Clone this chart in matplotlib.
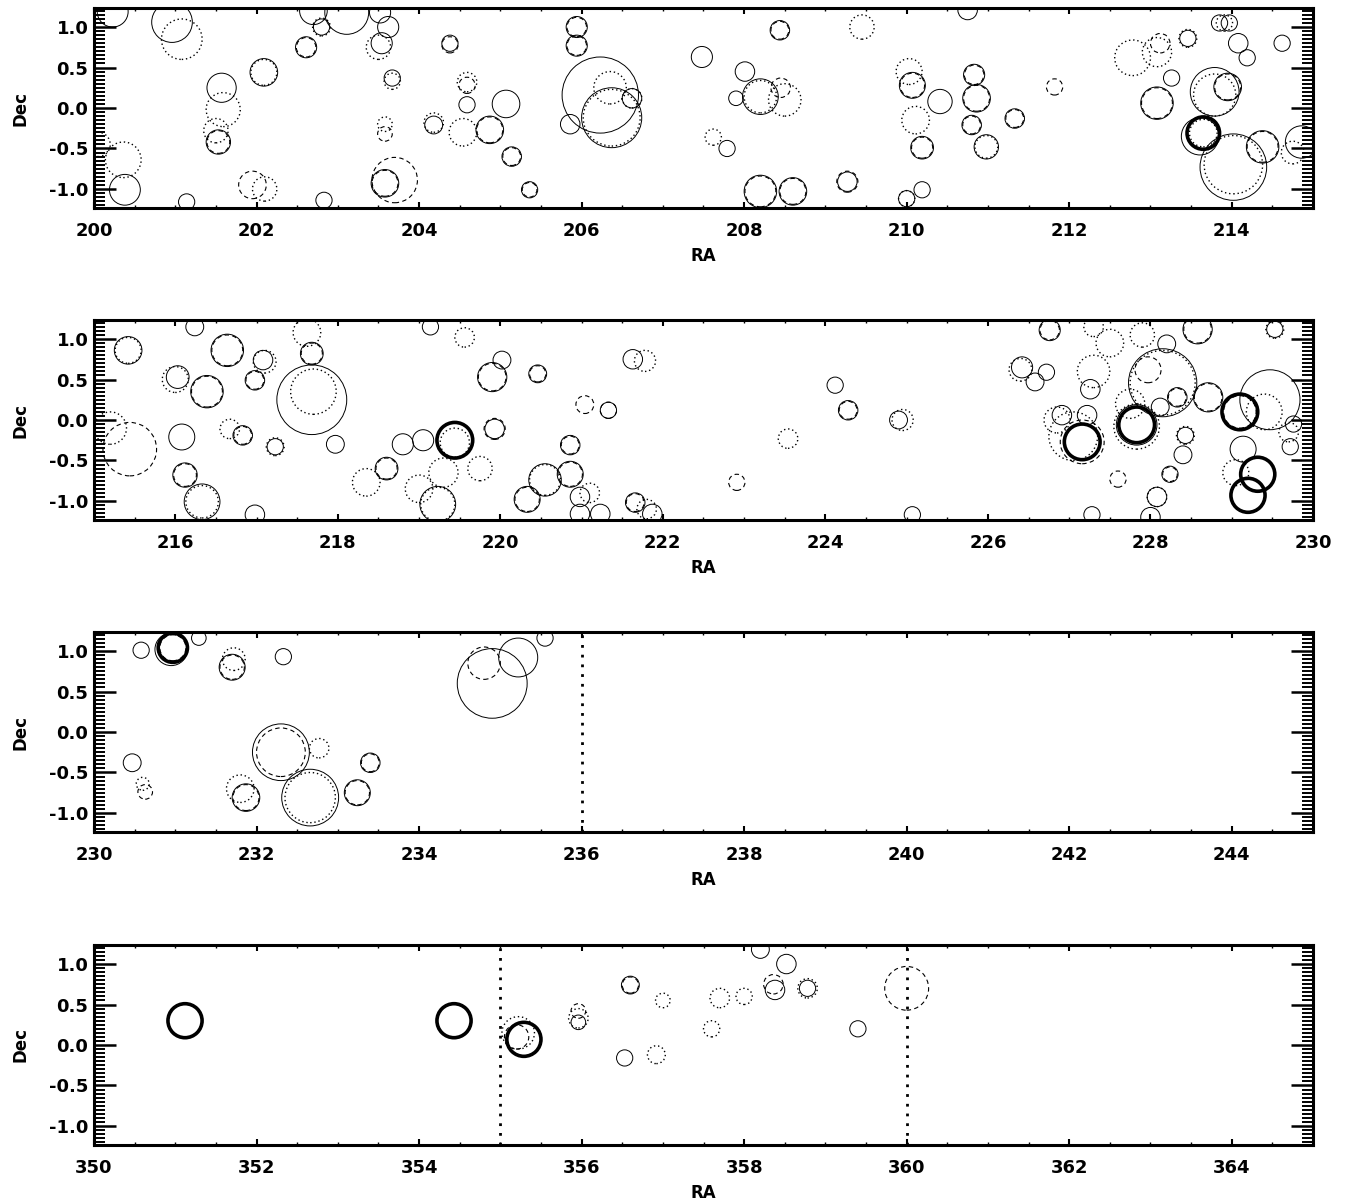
import numpy as np
import matplotlib
matplotlib.use('Agg')
import matplotlib.pyplot as plt
from matplotlib.patches import Circle
from matplotlib.ticker import MultipleLocator, FormatStrFormatter

# circle lists per strip: (RA, Dec, radius, kind)
# kind: s = thin solid, d = dashed, o = dotted, b = thick solid
strip1 = [
    (200.23, 1.19, 0.19, 's'), (200.96, 1.06, 0.25, 's'), (201.08, 0.85, 0.25, 'o'),
    (200.36, -0.64, 0.22, 'o'), (200.05, -0.45, 0.15, 'o'), (200.38, -1.01, 0.19, 's'),
    (201.57, 0.25, 0.18, 's'), (201.59, -0.02, 0.21, 'o'), (201.53, -0.42, 0.15, 's'),
    (201.53, -0.42, 0.14, 'd'), (201.50, -0.28, 0.15, 'o'), (202.09, 0.44, 0.17, 's'),
    (202.09, 0.44, 0.16, 'o'), (201.95, -0.95, 0.17, 'd'), (202.10, -1.00, 0.15, 'o'),
    (201.14, -1.16, 0.10, 's'), (202.83, -1.14, 0.10, 's'), (202.61, 0.75, 0.13, 's'),
    (202.61, 0.75, 0.12, 'd'), (203.11, 1.18, 0.27, 's'), (202.70, 1.20, 0.17, 's'),
    (202.80, 1.00, 0.10, 's'), (202.80, 1.00, 0.11, 'o'), (203.52, 1.18, 0.13, 's'),
    (203.62, 1.00, 0.13, 's'), (203.54, 0.80, 0.13, 's'), (203.50, 0.75, 0.15, 'o'),
    (203.67, 0.37, 0.10, 's'), (203.67, 0.33, 0.10, 'o'), (203.58, -0.20, 0.09, 'o'),
    (203.58, -0.32, 0.09, 'd'), (203.58, -0.93, 0.17, 's'), (203.58, -0.93, 0.16, 'd'),
    (203.70, -0.89, 0.28, 'd'), (204.38, 0.80, 0.10, 's'), (204.38, 0.78, 0.10, 'd'),
    (204.59, 0.28, 0.10, 'd'), (204.59, 0.32, 0.12, 'o'), (204.59, 0.04, 0.10, 's'),
    (204.18, -0.21, 0.11, 's'), (204.18, -0.18, 0.12, 'o'), (204.54, -0.30, 0.17, 'o'),
    (204.87, -0.27, 0.17, 's'), (204.87, -0.27, 0.16, 'd'), (205.07, 0.05, 0.17, 's'),
    (205.14, -0.60, 0.12, 's'), (205.14, -0.60, 0.11, 'd'), (205.36, -1.01, 0.10, 's'),
    (205.36, -1.01, 0.09, 'd'), (205.94, 1.00, 0.13, 's'), (205.94, 1.00, 0.12, 'd'),
    (205.94, 0.77, 0.13, 's'), (205.94, 0.77, 0.12, 'd'), (206.23, 0.16, 0.47, 's'),
    (206.37, -0.12, 0.37, 's'), (206.37, -0.12, 0.35, 'o'), (206.35, 0.25, 0.20, 'o'),
    (205.86, -0.20, 0.12, 's'), (206.62, 0.12, 0.12, 's'), (206.62, 0.12, 0.12, 'o'),
    (207.48, 0.63, 0.13, 's'), (208.01, 0.45, 0.12, 's'), (208.20, 0.14, 0.22, 's'),
    (208.20, 0.14, 0.20, 'o'), (207.90, 0.12, 0.09, 's'), (208.50, 0.10, 0.20, 'o'),
    (208.45, 0.25, 0.12, 'd'), (208.44, 0.96, 0.12, 's'), (208.44, 0.96, 0.11, 'd'),
    (207.79, -0.50, 0.10, 's'), (207.62, -0.36, 0.10, 'o'), (208.20, -1.03, 0.20, 's'),
    (208.20, -1.03, 0.19, 'd'), (208.60, -1.03, 0.17, 's'), (208.60, -1.03, 0.16, 'd'),
    (209.27, -0.91, 0.12, 's'), (209.27, -0.91, 0.13, 'd'), (209.45, 1.00, 0.15, 'o'),
    (210.00, -1.12, 0.10, 's'), (210.00, -1.12, 0.10, 'o'), (210.19, -1.01, 0.10, 's'),
    (210.07, 0.28, 0.16, 's'), (210.07, 0.28, 0.15, 'd'), (210.03, 0.45, 0.16, 'o'),
    (210.41, 0.08, 0.15, 's'), (210.11, -0.15, 0.17, 'o'), (210.19, -0.49, 0.14, 's'),
    (210.19, -0.49, 0.13, 'd'), (210.83, 0.41, 0.13, 's'), (210.83, 0.41, 0.12, 'd'),
    (210.86, 0.12, 0.17, 's'), (210.86, 0.12, 0.16, 'd'), (210.80, -0.21, 0.12, 's'),
    (210.80, -0.21, 0.11, 'd'), (210.98, -0.48, 0.15, 's'), (210.98, -0.48, 0.14, 'o'),
    (211.33, -0.13, 0.12, 's'), (211.33, -0.13, 0.11, 'd'), (210.75, 1.21, 0.12, 's'),
    (211.82, 0.26, 0.10, 'd'), (212.78, 0.62, 0.22, 'o'), (213.08, 0.69, 0.18, 'o'),
    (213.12, 0.80, 0.12, 'd'), (213.46, 0.86, 0.10, 's'), (213.46, 0.86, 0.11, 'o'),
    (213.26, 0.37, 0.10, 's'), (213.08, 0.06, 0.20, 's'), (213.08, 0.06, 0.19, 'd'),
    (213.79, 0.20, 0.30, 's'), (213.79, 0.16, 0.26, 'o'), (213.95, 0.26, 0.17, 's'),
    (213.95, 0.26, 0.16, 'd'), (213.85, 1.05, 0.10, 's'), (213.97, 1.05, 0.10, 's'),
    (213.91, 1.05, 0.10, 'o'), (214.08, 0.80, 0.12, 's'), (214.19, 0.62, 0.10, 's'),
    (214.62, 0.80, 0.10, 's'), (213.65, -0.31, 0.20, 'b'), (213.61, -0.35, 0.23, 's'),
    (213.65, -0.31, 0.17, 'o'), (214.02, -0.73, 0.41, 's'), (214.02, -0.70, 0.36, 'o'),
    (214.38, -0.48, 0.20, 's'), (214.38, -0.48, 0.19, 'd'), (214.86, -0.42, 0.20, 's'),
    (214.75, -0.55, 0.14, 'o'),
]

strip2 = [
    (215.42, 0.86, 0.17, 's'), (215.42, 0.86, 0.16, 'o'), (216.24, 1.15, 0.11, 's'),
    (216.64, 0.86, 0.20, 's'), (216.64, 0.86, 0.19, 'd'), (216.03, 0.53, 0.14, 's'),
    (216.00, 0.50, 0.16, 'o'), (216.39, 0.35, 0.20, 's'), (216.39, 0.35, 0.19, 'd'),
    (217.08, 0.74, 0.12, 's'), (217.10, 0.72, 0.14, 'o'), (216.98, 0.49, 0.12, 's'),
    (216.98, 0.49, 0.11, 'd'), (217.68, 0.82, 0.14, 's'), (217.68, 0.82, 0.13, 'd'),
    (217.68, 0.25, 0.43, 's'), (217.70, 0.35, 0.28, 'o'), (217.62, 1.08, 0.17, 'o'),
    (215.44, -0.36, 0.33, 'd'), (215.20, -0.10, 0.20, 'o'), (216.08, -0.21, 0.16, 's'),
    (216.83, -0.19, 0.12, 's'), (216.83, -0.19, 0.11, 'd'), (216.67, -0.11, 0.12, 'o'),
    (217.23, -0.33, 0.10, 's'), (217.23, -0.33, 0.11, 'o'), (217.97, -0.30, 0.11, 's'),
    (216.12, -0.68, 0.15, 's'), (216.12, -0.68, 0.14, 'd'), (216.33, -1.01, 0.22, 's'),
    (216.33, -1.01, 0.20, 'o'), (216.98, -1.17, 0.12, 's'), (218.60, -0.60, 0.14, 's'),
    (218.60, -0.60, 0.13, 'd'), (218.35, -0.77, 0.17, 'o'), (218.80, -0.30, 0.13, 's'),
    (219.05, -0.25, 0.13, 's'), (219.44, -0.25, 0.22, 'b'), (219.44, -0.28, 0.18, 'o'),
    (219.23, -1.04, 0.22, 's'), (219.23, -1.04, 0.21, 'o'), (219.14, 1.15, 0.10, 's'),
    (219.56, 1.02, 0.12, 'o'), (219.90, 0.53, 0.18, 's'), (219.90, 0.53, 0.17, 'd'),
    (220.02, 0.74, 0.11, 's'), (219.93, -0.11, 0.12, 's'), (219.93, -0.11, 0.13, 'd'),
    (219.30, -0.65, 0.18, 'o'), (219.75, -0.60, 0.15, 'o'), (219.00, -0.85, 0.17, 'o'),
    (220.46, 0.57, 0.11, 's'), (220.46, 0.57, 0.10, 'd'), (221.63, 0.75, 0.12, 's'),
    (221.78, 0.73, 0.13, 'o'), (221.04, 0.19, 0.11, 'd'), (221.33, 0.12, 0.10, 's'),
    (221.33, 0.12, 0.10, 'd'), (220.86, -0.31, 0.12, 's'), (220.86, -0.31, 0.11, 'd'),
    (220.55, -0.74, 0.20, 's'), (220.55, -0.74, 0.19, 'o'), (220.86, -0.67, 0.16, 's'),
    (220.86, -0.67, 0.15, 'd'), (220.33, -0.98, 0.16, 's'), (220.33, -0.98, 0.15, 'd'),
    (220.98, -0.95, 0.12, 's'), (221.10, -0.90, 0.12, 'o'), (221.23, -1.16, 0.12, 's'),
    (220.98, -1.16, 0.12, 's'), (221.66, -1.02, 0.12, 's'), (221.66, -1.02, 0.11, 'd'),
    (221.87, -1.16, 0.12, 's'), (221.80, -1.10, 0.12, 'o'), (222.91, -0.77, 0.10, 'd'),
    (223.54, -0.23, 0.12, 'o'), (224.12, 0.43, 0.10, 's'), (224.28, 0.12, 0.12, 's'),
    (224.28, 0.12, 0.11, 'd'), (224.90, 0.00, 0.11, 's'), (224.95, 0.00, 0.13, 'o'),
    (225.07, -1.17, 0.10, 's'), (226.76, 1.11, 0.13, 's'), (226.76, 1.11, 0.12, 'd'),
    (226.42, 0.65, 0.13, 's'), (226.40, 0.62, 0.14, 'o'), (226.72, 0.59, 0.10, 's'),
    (226.58, 0.47, 0.11, 's'), (227.26, 0.38, 0.12, 's'), (226.91, 0.06, 0.12, 's'),
    (226.85, 0.00, 0.16, 'o'), (227.22, 0.06, 0.12, 's'), (227.16, -0.27, 0.22, 'b'),
    (227.16, -0.27, 0.27, 'd'), (227.05, -0.20, 0.30, 'o'), (227.83, -0.06, 0.22, 'b'),
    (227.83, -0.06, 0.25, 's'), (227.83, -0.08, 0.28, 'o'), (228.15, 0.46, 0.42, 's'),
    (228.15, 0.46, 0.40, 'o'), (227.97, 0.62, 0.16, 'd'), (228.20, 0.94, 0.11, 's'),
    (228.58, 1.12, 0.18, 's'), (228.58, 1.12, 0.17, 'd'), (229.53, 1.12, 0.10, 's'),
    (229.53, 1.12, 0.11, 'o'), (228.71, 0.28, 0.18, 's'), (228.71, 0.28, 0.17, 'd'),
    (228.33, 0.28, 0.12, 's'), (228.33, 0.28, 0.11, 'd'), (228.12, 0.16, 0.11, 's'),
    (229.10, 0.10, 0.22, 'b'), (229.10, 0.10, 0.20, 'd'), (229.47, 0.25, 0.37, 's'),
    (229.40, 0.10, 0.22, 'o'), (228.43, -0.19, 0.10, 's'), (228.43, -0.19, 0.11, 'o'),
    (228.40, -0.43, 0.11, 's'), (228.24, -0.67, 0.10, 's'), (228.24, -0.67, 0.09, 'd'),
    (228.08, -0.95, 0.12, 's'), (228.08, -0.95, 0.12, 'o'), (227.60, -0.73, 0.10, 'd'),
    (229.14, -0.36, 0.16, 's'), (229.32, -0.67, 0.21, 'b'), (229.20, -0.93, 0.21, 'b'),
    (229.05, -0.65, 0.16, 'o'), (229.72, -0.33, 0.10, 's'), (229.76, -0.05, 0.10, 's'),
    (229.70, -0.15, 0.12, 'o'), (227.28, -1.17, 0.10, 's'), (228.00, -1.20, 0.12, 's'),
    (227.50, 0.95, 0.17, 'o'), (227.90, 1.05, 0.15, 'o'), (227.30, 1.15, 0.12, 'o'),
    (227.30, 0.60, 0.20, 'o'), (227.75, 0.20, 0.18, 'o'),
]

strip3 = [
    (230.58, 1.01, 0.10, 's'), (230.97, 1.04, 0.18, 'b'), (230.97, 1.04, 0.16, 'd'),
    (230.95, 1.02, 0.20, 's'), (231.29, 1.16, 0.09, 's'), (231.70, 0.80, 0.16, 's'),
    (231.70, 0.80, 0.15, 'd'), (231.72, 0.90, 0.14, 'o'), (232.33, 0.93, 0.10, 's'),
    (230.47, -0.38, 0.11, 's'), (230.63, -0.74, 0.09, 'd'), (230.60, -0.64, 0.08, 'o'),
    (231.87, -0.81, 0.17, 's'), (231.87, -0.81, 0.16, 'd'), (231.80, -0.70, 0.17, 'o'),
    (232.30, -0.25, 0.35, 's'), (232.30, -0.25, 0.30, 'd'), (232.66, -0.81, 0.35, 's'),
    (232.66, -0.81, 0.31, 'o'), (232.77, -0.20, 0.12, 'o'), (233.24, -0.75, 0.16, 's'),
    (233.24, -0.75, 0.15, 'd'), (233.40, -0.38, 0.12, 's'), (233.40, -0.38, 0.11, 'd'),
    (234.90, 0.60, 0.43, 's'), (234.80, 0.85, 0.20, 'd'), (235.22, 0.92, 0.24, 's'),
    (235.55, 1.16, 0.10, 's'),
]

strip4 = [
    (351.12, 0.30, 0.21, 'b'), (354.43, 0.30, 0.21, 'b'), (355.29, 0.07, 0.21, 'b'),
    (355.22, 0.15, 0.20, 'o'), (355.20, 0.10, 0.15, 'd'), (355.96, 0.33, 0.12, 'o'),
    (355.96, 0.28, 0.09, 's'), (355.96, 0.42, 0.09, 'd'), (356.60, 0.74, 0.11, 's'),
    (356.60, 0.74, 0.10, 'd'), (356.53, -0.16, 0.10, 's'), (356.92, -0.12, 0.11, 'o'),
    (357.00, 0.55, 0.09, 'o'), (357.60, 0.20, 0.10, 'o'), (357.70, 0.58, 0.12, 'o'),
    (358.00, 0.60, 0.10, 'o'), (358.20, 1.18, 0.11, 's'), (358.38, 0.68, 0.12, 's'),
    (358.36, 0.75, 0.12, 'd'), (358.52, 1.00, 0.12, 's'), (358.78, 0.70, 0.12, 'o'),
    (358.78, 0.70, 0.10, 's'), (359.40, 0.20, 0.10, 's'), (360.00, 0.70, 0.27, 'd'),
]

ra_start = [200, 215, 230, 350]
boundaries = [[], [], [236], [355, 360]]
strips = [strip1, strip2, strip3, strip4]

styles = {
    's': dict(ls='-', lw=0.7),
    'd': dict(ls=(0, (4, 3)), lw=0.8),
    'o': dict(ls=(0, (1, 2)), lw=1.0),
    'b': dict(ls='-', lw=2.6),
}

W, H = 1350, 1203
fig = plt.figure(figsize=(W / 100, H / 100), dpi=100)
plt.rcParams['font.family'] = 'DejaVu Sans'

tops = [8, 320, 632, 945]
for k in range(4):
    top = tops[k]
    ax = fig.add_axes([94 / W, 1 - (top + 200) / H, 1219 / W, 200 / H])
    r0 = ra_start[k]
    for ra, dec, rad, kind in strips[k]:
        ax.add_patch(Circle((ra, dec), rad, fill=False, color='black', clip_on=True, **styles[kind]))
    for b in boundaries[k]:
        ax.axvline(b, color='black', ls=(0, (1, 2.5)), lw=2.0)
    ax.set_xlim(r0, r0 + 15)
    ax.set_ylim(-1.235, 1.235)
    ax.xaxis.set_major_locator(MultipleLocator(2))
    ax.xaxis.set_minor_locator(MultipleLocator(0.5))
    ax.yaxis.set_major_locator(MultipleLocator(0.5))
    ax.yaxis.set_minor_locator(MultipleLocator(0.05))
    ax.yaxis.set_major_formatter(FormatStrFormatter('%.1f'))
    ax.tick_params(axis='x', which='major', direction='in', top=True, length=4, width=1.5,
                   pad=10, labelsize=13)
    ax.tick_params(axis='x', which='minor', direction='in', top=True, length=2, width=1)
    ax.tick_params(axis='y', which='major', direction='in', right=True, length=16, width=1.8,
                   pad=4, labelsize=13)
    ax.tick_params(axis='y', which='minor', direction='in', right=True, length=8, width=1.4)
    for lab in ax.get_xticklabels() + ax.get_yticklabels():
        lab.set_fontweight('bold')
    for sp in ax.spines.values():
        sp.set_linewidth(2.2)
    ax.set_xlabel('RA', fontsize=12, fontweight='bold', labelpad=5)
    ax.set_ylabel('Dec', fontsize=12, fontweight='bold', labelpad=14)

fig.savefig('out.png', dpi=100)
